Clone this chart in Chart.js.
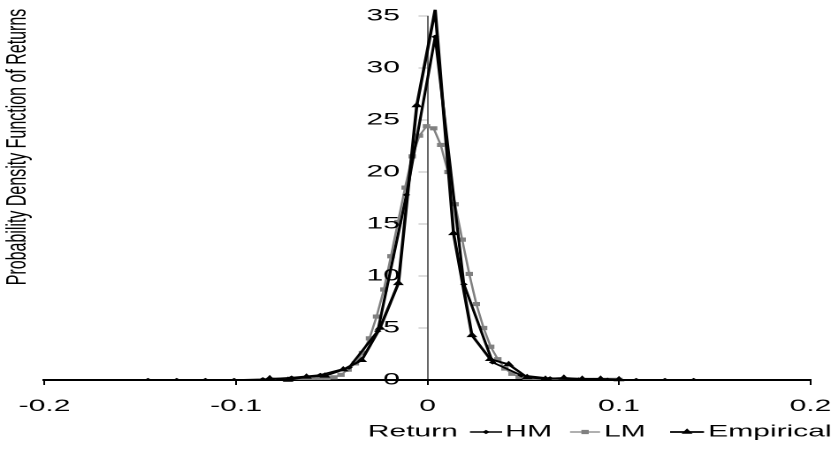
<!DOCTYPE html>
<html>
<head>
<meta charset="utf-8">
<script src="https://cdn.jsdelivr.net/npm/chart.js@4.4.1/dist/chart.umd.min.js"></script>
<style>
  html, body { margin: 0; padding: 0; background: #fff; overflow: hidden; }
  #wrap { position: absolute; left: 0; top: 0; width: 470px; height: 451px; transform: scaleX(1.768); transform-origin: 0 0; }
  canvas { display: block; }
</style>
</head>
<body>
<div id="wrap"><canvas id="c" width="470" height="451"></canvas></div>
<script>
// ---- data ----
const xTickLabels = ['-0.2', '-0.1', '0', '0.1', '0.2'];
const yTicks = [0, 5, 10, 15, 20, 25, 30, 35];
const seriesNames = ['HM', 'LM', 'Empirical'];
const xAxisTitle = 'Return';
const yAxisTitle = 'Probability Density Function of Returns';

const hmReturns = [-0.146, -0.131, -0.116, -0.101, -0.086, -0.071, -0.056, -0.041, -0.026, -0.011,
                   0.004, 0.019, 0.034, 0.049, 0.064, 0.079, 0.094, 0.109, 0.124, 0.139];
const hmDensity = [0.0, 0.0, 0.0, 0.0, 0.07, 0.22, 0.48, 1.2, 4.7, 17.8,
                   33.0, 9.2, 1.7, 0.45, 0.15, 0.05, 0.02, 0.0, 0.0, 0.0];

const lmReturns = [-0.0824, -0.0787, -0.0750, -0.0712, -0.0675, -0.0638, -0.0601, -0.0563, -0.0526, -0.0489,
                   -0.0452, -0.0415, -0.0377, -0.0340, -0.0303, -0.0266, -0.0228, -0.0191, -0.0154, -0.0117,
                   -0.0080, -0.0042, -0.0005, 0.0032, 0.0069, 0.0107, 0.0144, 0.0181, 0.0218, 0.0255,
                   0.0293, 0.0330, 0.0367, 0.0404, 0.0441, 0.0479, 0.0516, 0.0553, 0.0590, 0.0628,
                   0.0665, 0.0702, 0.0739, 0.0776, 0.0814, 0.0851, 0.0888, 0.0925, 0.0963, 0.1000];
const lmDensity = [0.02, 0.03, 0.04, 0.05, 0.06, 0.08, 0.10, 0.13, 0.18, 0.26,
                   0.5, 1.0, 1.6, 2.6, 4.0, 6.1, 8.7, 11.9, 15.2, 18.5,
                   21.5, 23.5, 24.4, 24.2, 22.6, 20.0, 16.9, 13.5, 10.2, 7.3,
                   5.0, 3.2, 2.0, 1.1, 0.6, 0.3, 0.15, 0.10, 0.08, 0.06,
                   0.05, 0.04, 0.03, 0.03, 0.02, 0.02, 0.01, 0.01, 0.01, 0.01];

const empReturns = [-0.0824, -0.0728, -0.0632, -0.0536, -0.0440, -0.0344, -0.0248, -0.0152, -0.0056, 0.0040,
                    0.0136, 0.0232, 0.0328, 0.0424, 0.0520, 0.0616, 0.0712, 0.0808, 0.0904, 0.1000];
const empDensity = [0.15, 0.0, 0.3, 0.4, 1.0, 1.9, 5.0, 9.3, 26.4, 35.6,
                    14.1, 4.3, 2.0, 1.5, 0.26, 0.1, 0.2, 0.1, 0.1, 0.05];

function pts(xs, ys) { return xs.map((x, i) => ({ x: x, y: ys[i] })); }

const FONT = "'Liberation Sans', Arial, sans-serif";
const Y_LABEL_GAP = 15.6;   // distance from the y axis line to the right edge of its labels

const styles = [
  { color: '#000000', pointStyle: 'rectRot', radius: 1.6, width: 1.6 },
  { color: '#808080', pointStyle: 'rect', radius: 2.4, width: 1.3 },
  { color: '#000000', pointStyle: 'triangle', radius: 2.8, width: 1.8 }
];

// y tick labels, placed from the library's own scales, left of the centred y axis
const yLabels = {
  id: 'yLabels',
  afterDraw(chart) {
    const ctx = chart.ctx;
    const ys = chart.scales.y;
    const ax = chart.scales.x.getPixelForValue(0);
    ctx.save();
    ctx.font = '17px ' + FONT;
    ctx.fillStyle = '#000';
    ctx.textAlign = 'right';
    ctx.textBaseline = 'middle';
    ys.ticks.forEach(t => {
      ctx.fillText(String(t.value), ax - Y_LABEL_GAP, ys.getPixelForValue(t.value));
    });
    ctx.restore();
  }
};

const extraText = {
  id: 'extraText',
  afterDraw(chart) {
    const ctx = chart.ctx;
    ctx.save();
    ctx.fillStyle = '#000';
    ctx.font = '16px ' + FONT;
    ctx.textAlign = 'center';
    ctx.textBaseline = 'middle';
    ctx.translate(10, 147);
    ctx.rotate(-Math.PI / 2);
    ctx.fillText(yAxisTitle, 0, 0);
    ctx.restore();

    ctx.save();
    const y = 432;
    ctx.font = '17px ' + FONT;
    ctx.fillStyle = '#000';
    ctx.textBaseline = 'middle';
    ctx.textAlign = 'right';
    ctx.fillText(xAxisTitle, 259, y);
    ctx.textAlign = 'left';
    const items = [
      { x0: 265.8, x1: 284.0, tx: 285.8 },
      { x0: 322.4, x1: 339.4, tx: 341.6 },
      { x0: 379.0, x1: 398.2, tx: 400.5 }
    ];
    items.forEach((it, i) => {
      const s = styles[i];
      ctx.strokeStyle = s.color;
      ctx.fillStyle = s.color;
      ctx.lineWidth = s.width;
      ctx.beginPath();
      ctx.moveTo(it.x0, y);
      ctx.lineTo(it.x1, y);
      ctx.stroke();
      ctx.lineWidth = 0.8;
      Chart.helpers.drawPoint(ctx, { pointStyle: s.pointStyle, radius: s.radius, rotation: 0, borderWidth: 0.8 }, (it.x0 + it.x1) / 2, y);
      ctx.fillStyle = '#000';
      ctx.fillText(seriesNames[i], it.tx, y);
    });
    ctx.restore();
  }
};

const datasets = [
  { label: seriesNames[0], data: pts(hmReturns, hmDensity) },
  { label: seriesNames[1], data: pts(lmReturns, lmDensity) },
  { label: seriesNames[2], data: pts(empReturns, empDensity), clip: false }
].map((d, i) => Object.assign(d, {
  showLine: true,
  borderColor: styles[i].color,
  backgroundColor: styles[i].color,
  pointBorderColor: styles[i].color,
  pointBackgroundColor: styles[i].color,
  borderWidth: styles[i].width,
  pointStyle: styles[i].pointStyle,
  pointRadius: styles[i].radius,
  pointBorderWidth: 0.8,
  pointHoverRadius: styles[i].radius,
  tension: 0,
  order: i === 1 ? 3 : (i === 0 ? 2 : 1)
}));

new Chart(document.getElementById('c'), {
  type: 'scatter',
  data: { datasets: datasets },
  options: {
    responsive: false,
    animation: false,
    devicePixelRatio: 2,
    layout: { padding: { left: 25.2, right: 11.6, top: 16, bottom: 37 } },
    plugins: { legend: { display: false }, tooltip: { enabled: false } },
    scales: {
      x: {
        type: 'linear', position: 'bottom', min: -0.2, max: 0.2,
        afterFit: (s) => { s.paddingLeft = 0; s.paddingRight = 0; s.paddingTop = 0; s.paddingBottom = 0; s.height = 34; },
        ticks: {
          stepSize: 0.1, color: '#000', padding: 11,
          font: { family: FONT, size: 17 },
          callback: (v, i) => xTickLabels[i]
        },
        grid: { display: true, drawOnChartArea: false, drawTicks: true, tickLength: 5, tickColor: '#000', tickWidth: 1 },
        border: { display: true, color: '#000', width: 2 }
      },
      y: {
        type: 'linear', position: { x: 0 }, min: 0, max: 35,
        afterBuildTicks: (s) => { s.ticks = yTicks.map(v => ({ value: v })); },
        afterFit: (s) => { s.paddingLeft = 0; s.paddingRight = 0; s.paddingTop = 0; s.paddingBottom = 0; },
        ticks: { display: false },
        grid: { display: true, drawOnChartArea: false, drawTicks: true, tickLength: 5, tickColor: '#bdbdbd', tickWidth: 1 },
        border: { display: true, color: '#000', width: 0.6 }
      }
    }
  },
  plugins: [yLabels, extraText]
});
</script>
</body>
</html>
